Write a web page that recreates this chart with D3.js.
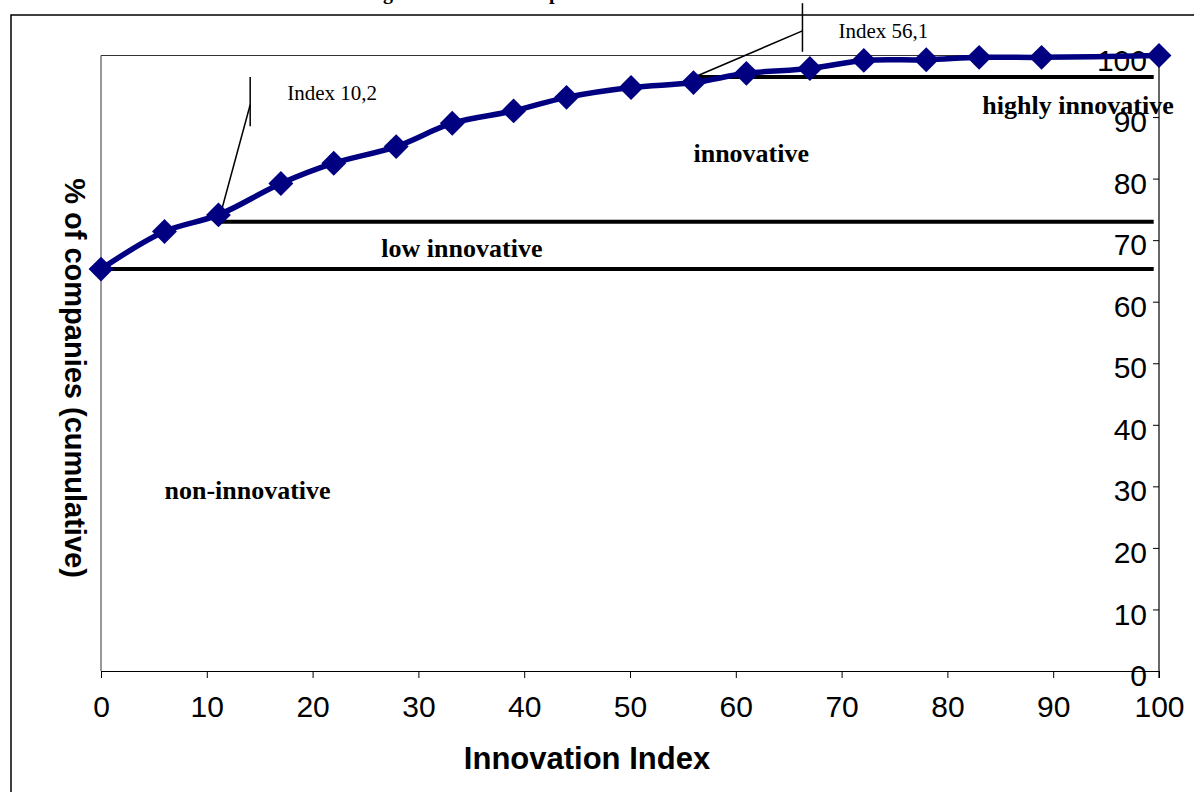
<!DOCTYPE html>
<html>
<head>
<meta charset="utf-8">
<script src="https://cdn.jsdelivr.net/npm/d3@7"></script>
<style>
  html, body { margin: 0; padding: 0; background: #fff; overflow: hidden; }
  svg { display: block; }
</style>
</head>
<body>
<svg id="chart" width="1194" height="792"></svg>
<script>
// ---- data ----
const innovationIndex = [0, 6.0, 11.1, 17.0, 22.0, 27.9, 33.2, 39.0, 44.0, 50.1, 56.0, 61.0, 67.0, 72.1, 78.0, 83.0, 88.9, 100];
const cumulativeShare = [65.3, 71.4, 74.1, 79.2, 82.5, 85.2, 89.0, 91.0, 93.2, 94.8, 95.6, 97.1, 97.9, 99.2, 99.3, 99.7, 99.7, 100];
const xTicks = [0, 10, 20, 30, 40, 50, 60, 70, 80, 90, 100];
const yTicks = [0, 10, 20, 30, 40, 50, 60, 70, 80, 90, 100];
const thresholdStart = [0, 11.1, 56.1];
const thresholdValue = [65.3, 73.0, 96.5];
const thresholdEnd = 99.5;
const regionNames = ["non-innovative", "low innovative", "innovative", "highly innovative"];
const regionX = [6.0, 26.5, 56.0, 83.3];
const regionY = [29.4, 68.7, 84.2, 92.0];
const calloutText = ["Index 10,2", "Index 56,1"];
const calloutStemX = [14.1, 66.3];
const calloutStemTop = [96.5, 108.5];
const calloutStemBottom = [88.5, 100.6];
const calloutJoinY = [92.0, 104.0];
const calloutTargetX = [11.1, 56.1];
const calloutTargetY = [73.0, 96.5];
const calloutLabelX = [17.6, 69.7];
const calloutLabelY = [92.8, 102.8];
const titleText = "Clustering of innovative companies";
const xTitle = "Innovation Index";
const yTitle = "% of companies (cumulative)";

// ---- layout ----
const svg = d3.select("#chart");
const pLeft = 101, pRight = 1159, pTop = 55.5, pBottom = 671;
const x = d3.scaleLinear().domain([0, 100]).range([pLeft, pRight]);
const y = d3.scaleLinear().domain([0, 100]).range([pBottom, pTop]);
const navy = "#000080";

// outer frame
svg.append("rect").attr("x", 11).attr("y", 15).attr("width", 1300).attr("height", 900)
  .attr("fill", "none").attr("stroke", "#000").attr("stroke-width", 1.5);

// title (cut at top)
svg.append("text").attr("x", 303).attr("y", -1)
  .attr("font-family", "Liberation Serif, Times New Roman, serif")
  .attr("font-weight", "bold").attr("font-size", 20).text(titleText);

// plot area border (top & left)
svg.append("path")
  .attr("d", `M${pLeft},${pBottom}V${y(100)}H${pRight}`)
  .attr("fill", "none").attr("stroke", "#333").attr("stroke-width", 1);

// x axis
const xAxis = svg.append("g").attr("transform", `translate(0,${pBottom})`)
  .call(d3.axisBottom(x).tickValues(xTicks).tickSize(7).tickSizeOuter(0).tickPadding(18));
xAxis.select(".domain").attr("stroke", "#000").attr("stroke-width", 1.2);
xAxis.selectAll(".tick line").attr("stroke", "#000");
xAxis.selectAll("text").attr("font-family", "Liberation Sans, Arial, sans-serif")
  .attr("font-size", 30).attr("fill", "#000");

// y axis at right, labels inside
const yAxis = svg.append("g").attr("transform", `translate(${pRight},0)`)
  .call(d3.axisLeft(y).tickValues(yTicks).tickSize(6).tickSizeOuter(0).tickPadding(6));
yAxis.select(".domain").attr("stroke", "#000").attr("stroke-width", 1.2)
  .attr("d", `M0,${pBottom + 7}V${y(100)}`);
yAxis.selectAll(".tick line").attr("stroke", "#000");
yAxis.selectAll("text").attr("font-family", "Liberation Sans, Arial, sans-serif")
  .attr("font-size", 30).attr("fill", "#000").attr("y", 5);

// axis titles
svg.append("text").attr("x", (pLeft + pRight) / 2 - 43).attr("y", 769)
  .attr("text-anchor", "middle")
  .attr("font-family", "Liberation Sans, Arial, sans-serif")
  .attr("font-weight", "bold").attr("font-size", 31).text(xTitle);
svg.append("text").attr("transform", `translate(65,378) rotate(90)`)
  .attr("text-anchor", "middle")
  .attr("font-family", "Liberation Sans, Arial, sans-serif")
  .attr("font-weight", "bold").attr("font-size", 29).text(yTitle);

// threshold lines
svg.append("g").selectAll("line").data(thresholdValue).join("line")
  .attr("x1", (d, i) => x(thresholdStart[i])).attr("x2", x(thresholdEnd))
  .attr("y1", d => y(d)).attr("y2", d => y(d))
  .attr("stroke", "#000").attr("stroke-width", 4);

// callouts
const cg = svg.append("g");
calloutText.forEach((t, i) => {
  cg.append("line").attr("x1", x(calloutStemX[i])).attr("x2", x(calloutStemX[i]))
    .attr("y1", y(calloutStemTop[i])).attr("y2", y(calloutStemBottom[i]))
    .attr("stroke", "#000").attr("stroke-width", 1.5);
  cg.append("line").attr("x1", x(calloutStemX[i])).attr("y1", y(calloutJoinY[i]))
    .attr("x2", x(calloutTargetX[i])).attr("y2", y(calloutTargetY[i]))
    .attr("stroke", "#000").attr("stroke-width", 1.5);
  cg.append("text").attr("x", x(calloutLabelX[i])).attr("y", y(calloutLabelY[i]))
    .attr("font-family", "Liberation Serif, Times New Roman, serif")
    .attr("font-size", 21).text(t);
});

// region labels
svg.append("g").selectAll("text").data(regionNames).join("text")
  .attr("x", (d, i) => x(regionX[i])).attr("y", (d, i) => y(regionY[i]))
  .attr("dy", "0.35em")
  .attr("font-family", "Liberation Serif, Times New Roman, serif")
  .attr("font-weight", "bold").attr("font-size", 26).text(d => d);

// series line
const pts = innovationIndex.map((v, i) => [v, cumulativeShare[i]]);
svg.append("path").datum(pts)
  .attr("d", d3.line().x(d => x(d[0])).y(d => y(d[1])).curve(d3.curveCatmullRom.alpha(0.5)))
  .attr("fill", "none").attr("stroke", navy).attr("stroke-width", 5.5).attr("stroke-linejoin", "round");

// markers
svg.append("g").selectAll("path").data(pts).join("path")
  .attr("transform", d => `translate(${x(d[0])},${y(d[1])}) rotate(45)`)
  .attr("d", d3.symbol(d3.symbolSquare, 310))
  .attr("fill", navy);
</script>
</body>
</html>
